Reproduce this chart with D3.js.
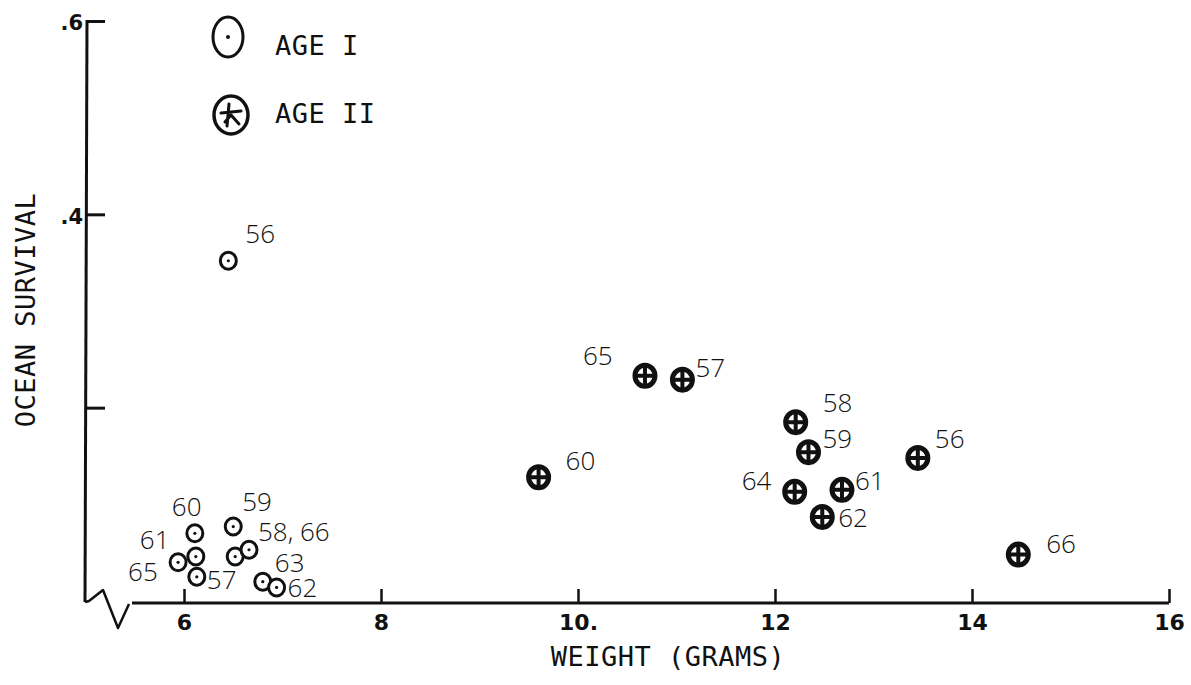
<!DOCTYPE html>
<html>
<head>
<meta charset="utf-8">
<script src="https://cdn.jsdelivr.net/npm/d3@7"></script>
<style>
  html, body { margin: 0; padding: 0; background: #fff; }
  svg { display: block; }
  .mono { font-family: "DejaVu Sans Mono", monospace; fill: #111; }
  .tick-lbl { font-family: "DejaVu Sans", sans-serif; font-weight: bold; fill: #111; }
  .pt-lbl { font-family: "Open Sans", sans-serif; font-weight: 300; fill: #111; font-size: 26px; }
</style>
</head>
<body>
<script>
// Ocean survival against smolt weight, by brood year
const ageIYears     = ["56", "60", "61", "65", "57", "59", "58", "66", "63", "62"];
const ageIWeight    = [6.45, 6.11, 6.12, 5.94, 6.13, 6.50, 6.52, 6.66, 6.80, 6.94];
const ageISurvival  = [0.352, 0.070, 0.046, 0.040, 0.025, 0.077, 0.046, 0.053, 0.020, 0.014];
// 58 and 66 share one label
const ageILabels    = ["56", "60", "61", "65", "57", "59", "", "58, 66", "63", "62"];

const ageIIYears    = ["65", "57", "60", "58", "59", "56", "64", "61", "62", "66"];
const ageIIWeight   = [10.68, 11.06, 9.60, 12.21, 12.34, 13.45, 12.20, 12.68, 12.48, 14.47];
const ageIISurvival = [0.233, 0.229, 0.128, 0.185, 0.154, 0.148, 0.113, 0.115, 0.087, 0.048];
const ageIILabels   = ageIIYears;

const xTicks = [6, 8, 10, 12, 14, 16];
const xTickLabels = ["6", "8", "10.", "12", "14", "16"];
const yTicks = [0.2, 0.4, 0.6];
const yTickLabels = ["", ".4", ".6"];

// label placement relative to each marker (dx, dy to text baseline start)
const ageILabelOffsets  = [[17,-18],[-23,-17],[-56,-8],[-50,19],[10,12],[9,-16],[0,0],[9,-9],[12,-10],[11,10]];
const ageIILabelOffsets = [[-62,-11],[13,-3],[27,-7],[27,-10],[14,-4],[17,-10],[-53,-2],[13,0],[16,10],[28,-2]];

const W = 1191, H = 685;
const svg = d3.select("body").append("svg").attr("width", W).attr("height", H);

const x = d3.scaleLinear().domain([6, 16]).range([184, 1169]);
const y = d3.scaleLinear().domain([0, 0.6]).range([601, 21]);
const axisY = 603, axisX = 87;

// x axis
const xAxis = d3.axisBottom(x)
  .tickValues(xTicks)
  .tickFormat((d, i) => xTickLabels[i])
  .tickSizeInner(-14).tickSizeOuter(0).tickPadding(11);
const gx = svg.append("g").attr("transform", `translate(0,${axisY})`).call(xAxis);
gx.select(".domain").remove();
gx.selectAll(".tick line").attr("stroke", "#111").attr("stroke-width", 2.5);
gx.selectAll(".tick text").attr("class", "tick-lbl").attr("font-size", 22).attr("dy", "0.74em");
svg.append("line")
  .attr("x1", x.range()[0] - 52).attr("x2", x.range()[1])
  .attr("y1", axisY).attr("y2", axisY)
  .attr("stroke", "#111").attr("stroke-width", 3);

// y axis
const yAxis = d3.axisLeft(y)
  .tickValues(yTicks)
  .tickFormat((d, i) => yTickLabels[i])
  .tickSizeInner(-18).tickSizeOuter(0).tickPadding(6);
const gy = svg.append("g").attr("transform", `translate(${axisX},0)`).call(yAxis);
gy.select(".domain").remove();
gy.selectAll(".tick line").attr("stroke", "#111").attr("stroke-width", 3);
gy.selectAll(".tick text").attr("class", "tick-lbl").attr("font-size", 21).attr("dy", "0.42em").attr("x", -4);
svg.append("line")
  .attr("x1", axisX).attr("x2", axisX - 2)
  .attr("y1", y(0.6) - 1).attr("y2", axisY - 1)
  .attr("stroke", "#111").attr("stroke-width", 3);

// axis break at the origin
svg.append("path")
  .attr("d", d3.line()([[axisX - 2, axisY - 1], [axisX + 2, axisY - 2], [103, 590], [118, 628], [129, 604]]))
  .attr("fill", "none").attr("stroke", "#111").attr("stroke-width", 2.5).attr("stroke-linejoin", "round");

// axis titles
svg.append("text").attr("class", "mono")
  .attr("transform", "translate(35,310) rotate(-90)")
  .attr("text-anchor", "middle").attr("font-size", 27).attr("letter-spacing", 0.5)
  .text("OCEAN SURVIVAL");
svg.append("text").attr("class", "mono")
  .attr("x", 668).attr("y", 666)
  .attr("text-anchor", "middle").attr("font-size", 27).attr("letter-spacing", 0.5)
  .text("WEIGHT (GRAMS)");

// markers
function ageIMark(g, rx, ry, sw, dot) {
  g.append("ellipse").attr("rx", rx).attr("ry", ry)
    .attr("fill", "#fff").attr("stroke", "#111").attr("stroke-width", sw);
  g.append("circle").attr("r", dot).attr("fill", "#111");
}
function ageIIMark(g) {
  g.append("ellipse").attr("rx", 10).attr("ry", 10.5)
    .attr("fill", "#fff").attr("stroke", "#111").attr("stroke-width", 5);
  g.append("path").attr("d", "M-9,0H9M0,-9V9")
    .attr("stroke", "#111").attr("stroke-width", 4);
}

const ageI = ageIWeight.map((w, i) => ({ w, s: ageISurvival[i], lbl: ageILabels[i], off: ageILabelOffsets[i] }));
const ageII = ageIIWeight.map((w, i) => ({ w, s: ageIISurvival[i], lbl: ageIILabels[i], off: ageIILabelOffsets[i] }));

svg.append("g").selectAll("g").data(ageI).join("g")
  .attr("transform", d => `translate(${x(d.w)},${y(d.s)})`)
  .each(function() { ageIMark(d3.select(this), 8, 8.5, 3, 1.6); });

svg.append("g").selectAll("g").data(ageII).join("g")
  .attr("transform", d => `translate(${x(d.w)},${y(d.s)})`)
  .each(function() { ageIIMark(d3.select(this)); });

// year labels
svg.append("g").selectAll("text").data(ageI.concat(ageII).filter(d => d.lbl)).join("text")
  .attr("class", "pt-lbl")
  .attr("x", d => x(d.w) + d.off[0])
  .attr("y", d => y(d.s) + d.off[1])
  .text(d => d.lbl);

// legend
const leg1 = svg.append("g").attr("transform", "translate(228,37)");
ageIMark(leg1, 15, 20, 3, 2);
svg.append("text").attr("class", "mono").attr("x", 275).attr("y", 55)
  .attr("font-size", 27).attr("letter-spacing", 0.5).text("AGE I");

const leg2 = svg.append("g").attr("transform", "translate(231,115)");
leg2.append("ellipse").attr("rx", 17).attr("ry", 19)
  .attr("fill", "#fff").attr("stroke", "#111").attr("stroke-width", 3.5);
leg2.append("path").attr("d", "M-10,-2L10,-4M-2,-11L-4,11M0,0L8,9M0,0L-6,7")
  .attr("fill", "none").attr("stroke", "#111").attr("stroke-width", 3).attr("stroke-linecap", "round");
svg.append("text").attr("class", "mono").attr("x", 275).attr("y", 123)
  .attr("font-size", 27).attr("letter-spacing", 0.5).text("AGE II");
</script>
</body>
</html>
